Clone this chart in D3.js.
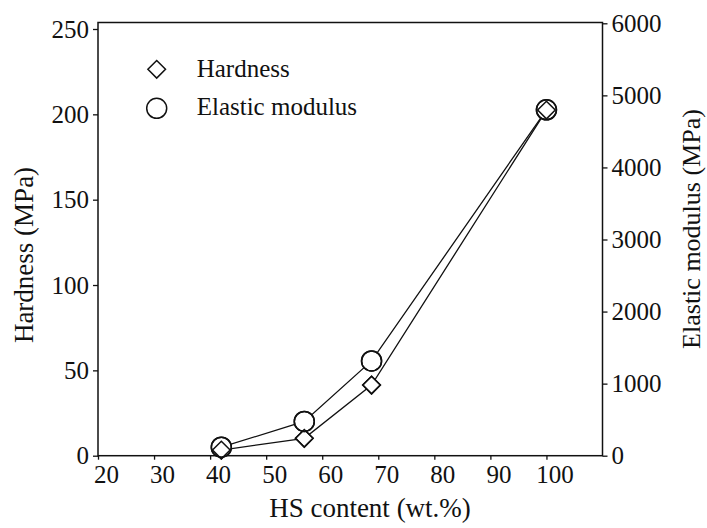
<!DOCTYPE html>
<html>
<head>
<meta charset="utf-8">
<script src="https://cdn.jsdelivr.net/npm/d3@7"></script>
<style>
  html, body { margin: 0; padding: 0; background: #fff; }
  svg { display: block; }
</style>
</head>
<body>
<svg id="chart" width="707" height="528"></svg>
<script>
// ---- data ----
const hsContent = [42, 56.8, 68.8, 100];          // HS content (wt.%)
const hardness = [3.3, 10.2, 41.4, 202.5];        // Hardness (MPa), left axis
const modulus = [118, 475, 1315, 4800];           // Elastic modulus (MPa), right axis
const xTicks = [20, 30, 40, 50, 60, 70, 80, 90, 100];
const yLeftTicks = [0, 50, 100, 150, 200, 250];
const yRightTicks = [0, 1000, 2000, 3000, 4000, 5000, 6000];
const legendLabels = ["Hardness", "Elastic modulus"];

// ---- layout ----
const FONT = '"Liberation Serif", "Times New Roman", Times, "DejaVu Serif", serif';
const svg = d3.select("#chart");
const left = 98, right = 602.5, bottom = 455.7, frameTop = 22.5;
const x = d3.scaleLinear().domain([20, 110]).range([left, right]);
const yL = d3.scaleLinear().domain([0, 250]).range([bottom, 29]);
const yR = d3.scaleLinear().domain([0, 6000]).range([bottom, 23.3]);
const fontSize = 25, titleSize = 27;
const ink = "#111";

function styleText(sel, size) {
  sel.attr("font-family", FONT).style("font-family", FONT)
     .style("font-size", (size || fontSize) + "px").attr("fill", ink);
  return sel;
}

// frame
svg.append("rect")
  .attr("x", left).attr("y", frameTop)
  .attr("width", right - left).attr("height", bottom - frameTop)
  .attr("fill", "none").attr("stroke", ink).attr("stroke-width", 1.5);

// bottom axis
const gx = svg.append("g").attr("transform", `translate(0,${bottom})`)
  .call(d3.axisBottom(x).tickValues(xTicks).tickSize(4).tickPadding(6).tickFormat(d3.format("d")));
gx.attr("font-family", FONT);
gx.select(".domain").remove();
styleText(gx.selectAll("text").attr("dx", 8));
gx.selectAll("line").attr("stroke", ink).attr("stroke-width", 1.3);

// left axis
const gl = svg.append("g").attr("transform", `translate(${left},0)`)
  .call(d3.axisLeft(yL).tickValues(yLeftTicks).tickSize(5).tickPadding(4).tickFormat(d3.format("d")));
gl.attr("font-family", FONT);
gl.select(".domain").remove();
styleText(gl.selectAll("text"));
gl.selectAll("line").attr("stroke", ink).attr("stroke-width", 1.3);

// right axis
const gr = svg.append("g").attr("transform", `translate(${right},0)`)
  .call(d3.axisRight(yR).tickValues(yRightTicks).tickSize(5).tickPadding(4).tickFormat(d3.format("d")));
gr.attr("font-family", FONT);
gr.select(".domain").remove();
styleText(gr.selectAll("text"));
gr.selectAll("line").attr("stroke", ink).attr("stroke-width", 1.3);

// axis titles
styleText(svg.append("text").attr("x", 370).attr("y", 517)
  .attr("text-anchor", "middle").text("HS content (wt.%)"), titleSize);
styleText(svg.append("text").attr("transform", "translate(33,255) rotate(-90)")
  .attr("text-anchor", "middle").text("Hardness (MPa)"), titleSize);
styleText(svg.append("text").attr("transform", "translate(700,229) rotate(-90)")
  .attr("text-anchor", "middle").text("Elastic modulus (MPa)"), 26);

// lines
const hPts = hsContent.map((v, i) => [x(v), yL(hardness[i])]);
const mPts = hsContent.map((v, i) => [x(v), yR(modulus[i])]);
const line = d3.line();
svg.append("path").attr("d", line(hPts)).attr("fill", "none").attr("stroke", ink).attr("stroke-width", 1.3);
svg.append("path").attr("d", line(mPts)).attr("fill", "none").attr("stroke", ink).attr("stroke-width", 1.3);

// markers
const dHalf = 8.8, cR = 10;
function diamond(g, cx, cy, fill) {
  g.append("path")
    .attr("d", `M${cx},${cy - dHalf}L${cx + dHalf},${cy}L${cx},${cy + dHalf}L${cx - dHalf},${cy}Z`)
    .attr("fill", fill).attr("stroke", ink).attr("stroke-width", 1.5);
}
function circle(g, cx, cy, fill) {
  g.append("circle").attr("cx", cx).attr("cy", cy).attr("r", cR)
    .attr("fill", fill).attr("stroke", ink).attr("stroke-width", 1.5);
}
const gm = svg.append("g");
hPts.forEach(p => diamond(gm, p[0], p[1], "#fff"));
mPts.forEach(p => circle(gm, p[0], p[1], "#fff"));
hPts.forEach(p => diamond(gm, p[0], p[1], "none"));
mPts.forEach(p => circle(gm, p[0], p[1], "none"));

// legend
const lg = svg.append("g");
diamond(lg, 156.7, 69.3, "#fff");
circle(lg, 156.7, 108.3, "#fff");
styleText(lg.append("text").attr("x", 196.7).attr("y", 77).text(legendLabels[0]));
styleText(lg.append("text").attr("x", 196.7).attr("y", 115).text(legendLabels[1]));
</script>
</body>
</html>
